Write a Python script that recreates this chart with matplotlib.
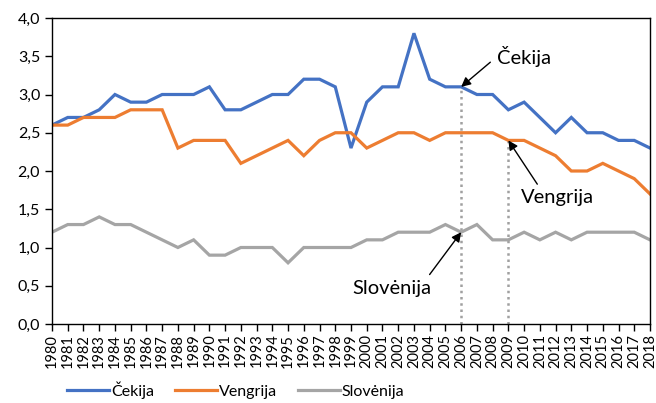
import matplotlib
matplotlib.use("Agg")
import matplotlib.pyplot as plt
from matplotlib.ticker import FuncFormatter, MultipleLocator

years = list(range(1980, 2019))
cekija = [2.6, 2.7, 2.7, 2.8, 3.0, 2.9, 2.9, 3.0, 3.0, 3.0, 3.1, 2.8, 2.8, 2.9, 3.0, 3.0, 3.2, 3.2, 3.1, 2.3,
          2.9, 3.1, 3.1, 3.8, 3.2, 3.1, 3.1, 3.0, 3.0, 2.8, 2.9, 2.7, 2.5, 2.7, 2.5, 2.5, 2.4, 2.4, 2.3]
vengrija = [2.6, 2.6, 2.7, 2.7, 2.7, 2.8, 2.8, 2.8, 2.3, 2.4, 2.4, 2.4, 2.1, 2.2, 2.3, 2.4, 2.2, 2.4, 2.5, 2.5,
            2.3, 2.4, 2.5, 2.5, 2.4, 2.5, 2.5, 2.5, 2.5, 2.4, 2.4, 2.3, 2.2, 2.0, 2.0, 2.1, 2.0, 1.9, 1.7]
slovenija = [1.2, 1.3, 1.3, 1.4, 1.3, 1.3, 1.2, 1.1, 1.0, 1.1, 0.9, 0.9, 1.0, 1.0, 1.0, 0.8, 1.0, 1.0, 1.0, 1.0,
             1.1, 1.1, 1.2, 1.2, 1.2, 1.3, 1.2, 1.3, 1.1, 1.1, 1.2, 1.1, 1.2, 1.1, 1.2, 1.2, 1.2, 1.2, 1.1]
series_names = ["Čekija", "Vengrija", "Slovėnija"]
colors = ["#4472C4", "#ED7D31", "#A5A5A5"]

plt.rcParams['font.family'] = ['Lato', 'DejaVu Sans']

fig = plt.figure(figsize=(6.56, 4.03), dpi=100)
ax = fig.add_axes([52/656, (403-324)/403, (650-52)/656, (324-18)/403])

for vals, name, c in zip([cekija, vengrija, slovenija], series_names, colors):
    ax.plot(years, vals, color=c, lw=2.3, label=name, solid_joinstyle='miter')

# dotted reference lines
i06 = years.index(2006)
i09 = years.index(2009)
ax.plot([2006, 2006], [0, cekija[i06]], color="#A0A0A0", lw=1.8, ls=(0, (1, 1.5)), zorder=1)
ax.plot([2009, 2009], [0, vengrija[i09]], color="#A0A0A0", lw=1.8, ls=(0, (1, 1.5)), zorder=1)

ax.annotate("Čekija", xy=(2006, cekija[i06]), xytext=(2008.3, 3.5), fontsize=14.5,
            va="center", ha="left",
            arrowprops=dict(arrowstyle="-|>", color="black", lw=1.0, mutation_scale=14,
                            relpos=(0, 0.5), shrinkA=4, shrinkB=0))
ax.annotate("Vengrija", xy=(2009, vengrija[i09]), xytext=(2009.8, 1.65), fontsize=14.5,
            va="center", ha="left",
            arrowprops=dict(arrowstyle="-|>", color="black", lw=1.0, mutation_scale=14,
                            relpos=(0.27, 1), shrinkA=2, shrinkB=0))
ax.annotate("Slovėnija", xy=(2006, slovenija[i06]), xytext=(2001.6, 0.47), fontsize=14.5,
            va="center", ha="center",
            arrowprops=dict(arrowstyle="-|>", color="black", lw=1.0, mutation_scale=14,
                            relpos=(0.93, 1), shrinkA=2, shrinkB=0))

ax.set_xlim(1980, 2018)
ax.set_ylim(0, 4.0)
ax.yaxis.set_major_locator(MultipleLocator(0.5))
ax.yaxis.set_major_formatter(FuncFormatter(lambda v, p: f"{v:.1f}".replace(".", ",")))
ax.set_xticks(years)
ax.set_xticklabels([str(y) for y in years], rotation=90, fontsize=10.5)
ax.tick_params(axis='y', labelsize=11.5, length=5, width=1, direction='out')
ax.tick_params(axis='x', length=5, width=1, direction='out', pad=2)
for s in ax.spines.values():
    s.set_linewidth(1.0)
    s.set_color("black")

fig.legend(loc="center", bbox_to_anchor=(236/656, 1 - 390/403), ncol=3, frameon=False,
           fontsize=11.5, handlelength=2.6, columnspacing=1.3, handletextpad=0.15)

fig.savefig("out.png", dpi=100)
